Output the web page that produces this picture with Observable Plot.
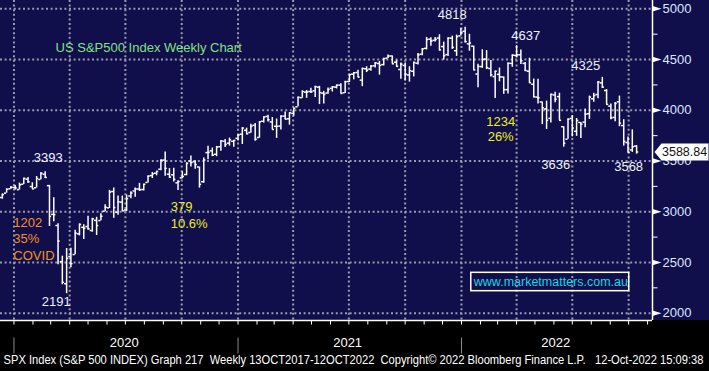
<!DOCTYPE html>
<html><head><meta charset="utf-8">
<script src="https://cdn.jsdelivr.net/npm/d3@7"></script>
<script src="https://cdn.jsdelivr.net/npm/@observablehq/plot@0.6"></script>
<style>
html,body{margin:0;padding:0;background:#000;}
#chart{width:709px;height:371px;overflow:hidden;}
</style></head><body><div id="chart"></div>
<script>
// Weekly bars (week-ending Friday)
const weeks = ["2019-12-06","2019-12-13","2019-12-20","2019-12-27","2020-01-03","2020-01-10","2020-01-17","2020-01-24","2020-01-31","2020-02-07","2020-02-14","2020-02-21","2020-02-28","2020-03-06","2020-03-13","2020-03-20","2020-03-27","2020-04-03","2020-04-10","2020-04-17","2020-04-24","2020-05-01","2020-05-08","2020-05-15","2020-05-22","2020-05-29","2020-06-05","2020-06-12","2020-06-19","2020-06-26","2020-07-03","2020-07-10","2020-07-17","2020-07-24","2020-07-31","2020-08-07","2020-08-14","2020-08-21","2020-08-28","2020-09-04","2020-09-11","2020-09-18","2020-09-25","2020-10-02","2020-10-09","2020-10-16","2020-10-23","2020-10-30","2020-11-06","2020-11-13","2020-11-20","2020-11-27","2020-12-04","2020-12-11","2020-12-18","2020-12-25","2021-01-01","2021-01-08","2021-01-15","2021-01-22","2021-01-29","2021-02-05","2021-02-12","2021-02-19","2021-02-26","2021-03-05","2021-03-12","2021-03-19","2021-03-26","2021-04-02","2021-04-09","2021-04-16","2021-04-23","2021-04-30","2021-05-07","2021-05-14","2021-05-21","2021-05-28","2021-06-04","2021-06-11","2021-06-18","2021-06-25","2021-07-02","2021-07-09","2021-07-16","2021-07-23","2021-07-30","2021-08-06","2021-08-13","2021-08-20","2021-08-27","2021-09-03","2021-09-10","2021-09-17","2021-09-24","2021-10-01","2021-10-08","2021-10-15","2021-10-22","2021-10-29","2021-11-05","2021-11-12","2021-11-19","2021-11-26","2021-12-03","2021-12-10","2021-12-17","2021-12-24","2021-12-31","2022-01-07","2022-01-14","2022-01-21","2022-01-28","2022-02-04","2022-02-11","2022-02-18","2022-02-25","2022-03-04","2022-03-11","2022-03-18","2022-03-25","2022-04-01","2022-04-08","2022-04-15","2022-04-22","2022-04-29","2022-05-06","2022-05-13","2022-05-20","2022-05-27","2022-06-03","2022-06-10","2022-06-17","2022-06-24","2022-07-01","2022-07-08","2022-07-15","2022-07-22","2022-07-29","2022-08-05","2022-08-12","2022-08-19","2022-08-26","2022-09-02","2022-09-09","2022-09-16","2022-09-23","2022-09-30","2022-10-07","2022-10-14"];
const open  = [3143,3141,3183,3226,3240,3218,3271,3321,3248,3236,3318,3369,3257,2974,2864,2508,2291,2559,2578,2782,2846,2854,2815,2915,2913,3005,3038,3199,2994,3095,3018,3155,3205,3224,3219,3289,3356,3380,3419,3509,3370,3364,3285,3334,3367,3500,3493,3441,3296,3583,3600,3566,3641,3694,3676,3694,3723,3764,3803,3781,3852,3732,3892,3939,3885,3842,3844,3942,3916,3969,4034,4124,4179,4185,4192,4228,4169,4170,4216,4229,4248,4173,4284,4356,4372,4297,4409,4406,4438,4461,4450,4514,4535,4474,4402,4442,4348,4385,4464,4553,4610,4701,4689,4712,4628,4549,4711,4587,4733,4778,4655,4632,4357,4431,4505,4412,4332,4354,4328,4203,4462,4541,4547,4462,4385,4256,4130,4082,4013,3920,4151,4135,3838,3715,3920,3793,3880,3883,3966,4113,4155,4270,4195,4041,3930,4084,3849,3682,3609,3647];
const high  = [3155,3176,3226,3248,3258,3282,3329,3338,3285,3347,3385,3393,3260,3137,2882,2562,2637,2641,2818,2880,2871,2955,2935,2945,2980,3068,3211,3233,3155,3155,3165,3198,3233,3280,3272,3352,3387,3399,3509,3588,3425,3428,3306,3394,3482,3550,3502,3441,3529,3646,3628,3644,3699,3712,3726,3702,3761,3827,3824,3862,3870,3887,3934,3950,3929,3914,3944,3983,3975,4020,4129,4191,4195,4218,4238,4236,4186,4219,4234,4249,4261,4286,4355,4372,4394,4415,4429,4440,4470,4481,4513,4545,4536,4493,4466,4466,4429,4475,4560,4608,4718,4714,4717,4744,4672,4713,4731,4741,4808,4819,4749,4632,4453,4596,4589,4490,4385,4416,4329,4465,4546,4637,4594,4471,4513,4308,4307,4082,4090,4158,4177,4168,3838,3913,3946,3919,3880,4013,4140,4167,4281,4325,4204,4062,4077,4140,3907,3736,3807,3652];
const low   = [3070,3123,3183,3222,3214,3214,3269,3280,3225,3234,3316,3327,2855,2901,2478,2280,2192,2447,2575,2762,2727,2820,2798,2766,2910,2999,3032,2936,2966,3004,3001,3128,3142,3200,3204,3284,3327,3354,3404,3349,3329,3292,3209,3324,3354,3441,3419,3233,3280,3512,3543,3543,3595,3633,3647,3636,3697,3663,3764,3773,3694,3725,3874,3885,3811,3723,3806,3908,3853,3943,4034,4118,4118,4168,4126,4056,4062,4157,4180,4210,4165,4165,4274,4300,4322,4233,4372,4385,4416,4347,4437,4511,4457,4425,4305,4289,4278,4329,4447,4537,4595,4630,4672,4585,4495,4530,4600,4531,4733,4662,4582,4395,4223,4414,4401,4327,4115,4281,4157,4161,4424,4517,4450,4381,4267,4124,4062,3859,3811,3875,4074,3900,3637,3715,3738,3743,3722,3828,3910,4079,4114,4218,4057,3907,3886,3838,3647,3585,3585,3568];
const close = [3146,3169,3221,3240,3235,3265,3329,3295,3225,3328,3380,3338,2954,2972,2711,2305,2541,2489,2790,2875,2837,2831,2930,2864,2955,3044,3194,3041,3098,3009,3130,3185,3225,3216,3271,3351,3373,3397,3508,3427,3341,3319,3298,3348,3477,3484,3465,3270,3510,3585,3558,3638,3699,3663,3709,3703,3756,3825,3768,3841,3714,3887,3934,3907,3811,3842,3943,3913,3975,4020,4129,4185,4180,4181,4233,4174,4156,4204,4230,4247,4166,4281,4352,4370,4327,4412,4395,4437,4468,4442,4509,4535,4458,4433,4455,4357,4391,4471,4545,4605,4697,4683,4698,4595,4538,4712,4620,4726,4766,4677,4663,4398,4432,4501,4419,4349,4385,4329,4204,4463,4543,4546,4488,4392,4272,4132,4123,4024,3901,4158,4109,3901,3675,3912,3825,3899,3863,3962,4130,4145,4280,4228,4058,3924,4067,3873,3693,3586,3640,3589];
const lastPrice = 3588.84;

// Axis values and labels
const yTicks = [2000, 2500, 3000, 3500, 4000, 4500, 5000];
const yMinor = [2250, 2750, 3250, 3750, 4250, 4750];
const yearLabels = ["2020", "2021", "2022"];
const yearLabelDates = ["2020-06-29", "2021-06-29", "2022-06-04"];
const yearStarts = ["2020-01-01", "2021-01-01", "2022-01-01"];

// Annotations: [text, date, value]
const whiteNotes = [["3393","2020-02-26",3535],["2191","2020-03-10",2115],["4818","2021-12-17",4944],["4637","2022-04-16",4730],["4325","2022-07-23",4434],["3636","2022-06-04",3463],["3568","2022-10-01",3439]];
const covidNotes = [["1202","2019-12-31",2891],["35%","2019-12-31",2733],["COVID","2019-12-31",2569]];
const yellowNotesLeft = [["379","2020-09-13",3045],["10.6%","2020-09-13",2881]];
const yellowNotesMid = [["1234","2022-03-06",3882],["26%","2022-03-06",3735]];
const titleNote = [["US S&P500 Index Weekly Chart","2020-03-09",4619]];
const urlNote = [["www.marketmatters.com.au","2022-05-27",2307]];
const urlBox = [["2022-01-17","2022-10-02",2217,2398]];
const footer = "SPX Index (S&P 500 INDEX) Graph 217  Weekly 13OCT2017-12OCT2022  Copyright\u00A9 2022 Bloomberg Finance L.P.   12-Oct-2022 15:09:38";

const parse = d3.utcParse("%Y-%m-%d");
const bars = weeks.map((w, i) => ({date: parse(w), o: open[i], h: high[i], l: low[i], c: close[i]}));
const xDomain = [parse("2019-12-10"), parse("2022-11-09")];
const yDomain = [1928, 5082];
const DAY = 864e5;
const half = 3.5 * DAY;
const quarters = d3.utcMonth.every(3).range(parse("2020-01-01"), xDomain[1]);
const months = d3.utcMonth.range(parse("2020-01-01"), xDomain[1]);

const font = "'Liberation Sans',Arial,sans-serif";
const gridColor = "#9a9aaa";
const dash = "2,2.6";

const lineSym = (x1, y1, x2, y2) => ({draw(ctx) { ctx.moveTo(x1, y1); ctx.lineTo(x2, y2); }});
const triSym = {draw(ctx) { ctx.moveTo(0, -2.8); ctx.lineTo(9, 0); ctx.lineTo(0, 2.8); ctx.closePath(); }};
const tagSym = {draw(ctx) { ctx.moveTo(2, 0); ctx.lineTo(9, -8.5); ctx.lineTo(56, -8.5); ctx.lineTo(56, 8.5); ctx.lineTo(9, 8.5); ctx.closePath(); }};

const note = (arr, opts) => Plot.text(arr, {x: d => parse(d[1]), y: d => d[2], text: d => d[0], fontFamily: font, fontSize: 13, ...opts});

const plot = Plot.plot({
  width: 709, height: 371,
  marginLeft: 0, marginRight: 57, marginTop: 0, marginBottom: 51,
  style: "background: linear-gradient(to bottom, #100e4b 0px, #100e4b 320px, #000 320px, #000 371px); font-family: " + font + ";",
  x: {type: "utc", domain: xDomain, axis: null},
  y: {type: "linear", domain: yDomain, axis: null},
  marks: [
    Plot.ruleY(yTicks, {stroke: gridColor, strokeWidth: 2, strokeDasharray: dash}),
    Plot.ruleX(quarters, {stroke: gridColor, strokeWidth: 2, strokeDasharray: dash}),
    // OHLC bars
    Plot.ruleX(bars, {x: "date", y1: "l", y2: "h", stroke: "white", strokeWidth: 1.5, clip: true}),
    Plot.ruleY(bars, {y: "o", x1: d => new Date(+d.date - half), x2: "date", stroke: "white", strokeWidth: 1.5, clip: true}),
    Plot.ruleY(bars, {y: "c", x1: "date", x2: d => new Date(+d.date + half), stroke: "white", strokeWidth: 1.5, clip: true}),
    // frame lines
    Plot.ruleX([xDomain[1]], {stroke: "white", strokeWidth: 1.5}),
    Plot.ruleY([yDomain[0]], {stroke: "white", strokeWidth: 1.5}),
    // right axis
    Plot.dot(yMinor, {y: d => d, frameAnchor: "right", symbol: lineSym(0, 0, 5, 0), stroke: "white", fill: "none", strokeWidth: 1}),
    Plot.dot(yTicks, {y: d => d, frameAnchor: "right", symbol: triSym, fill: "white", stroke: "none"}),
    Plot.text(yTicks, {y: d => d, frameAnchor: "right", text: d => String(d), dx: 10, textAnchor: "start", fill: "#dfe6ff", fontSize: 13, fontFamily: font}),
    // bottom axis
    Plot.dot(months, {x: d => d, frameAnchor: "bottom", symbol: lineSym(0, 0, 0, 4), stroke: "white", fill: "none", strokeWidth: 1}),
    Plot.dot(yearStarts, {x: d => parse(d), frameAnchor: "bottom", symbol: lineSym(0, 17, 0, 33), stroke: "#8a8a8a", fill: "none", strokeWidth: 1}),
    Plot.text(yearLabels, {x: (d, i) => parse(yearLabelDates[i]), frameAnchor: "bottom", dy: 26, text: d => d, fill: "white", fontSize: 13, fontFamily: font}),
    Plot.text([footer], {frameAnchor: "bottom-left", dx: 3, dy: 43, textAnchor: "start", text: d => d, fill: "white", fontSize: 12, fontFamily: font}),
    // annotations
    note(titleNote, {textAnchor: "start", fill: "#82e282"}),
    note(whiteNotes, {fill: "#eef2ff"}),
    note(covidNotes, {textAnchor: "start", fill: "#f5901e"}),
    note(yellowNotesLeft, {textAnchor: "start", fill: "#eeee22"}),
    note(yellowNotesMid, {fill: "#eeee22"}),
    Plot.rect(urlBox, {x1: d => parse(d[0]), x2: d => parse(d[1]), y1: d => d[2], y2: d => d[3], fill: "none", stroke: "white", strokeWidth: 1.5}),
    note(urlNote, {fill: "#12d8e6", fontSize: 12.5}),
    // last price tag
    Plot.dot([lastPrice], {y: d => d, frameAnchor: "right", symbol: tagSym, fill: "white", stroke: "none"}),
    Plot.text([lastPrice], {y: d => d, frameAnchor: "right", dx: 9.5, textAnchor: "start", text: d => d.toFixed(2), fill: "#111", fontSize: 12.5, fontFamily: font})
  ]
});
d3.select(plot).selectAll("text").filter(function() { return this.textContent.startsWith("SPX Index"); })
  .attr("textLength", 700).attr("lengthAdjust", "spacingAndGlyphs");
document.getElementById("chart").appendChild(plot);
</script></body></html>
